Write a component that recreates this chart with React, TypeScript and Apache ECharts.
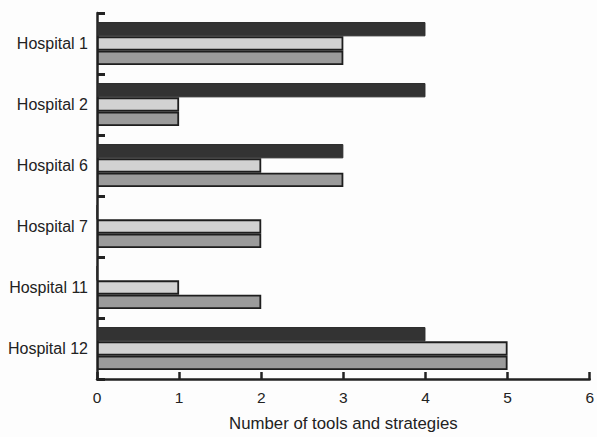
import React, { useEffect, useRef } from "react";
import * as echarts from "echarts";

const categories = ["Hospital 1", "Hospital 2", "Hospital 6", "Hospital 7", "Hospital 11", "Hospital 12"];
const darkValues = [4, 4, 3, 0, 0, 4];
const lightValues = [3, 1, 2, 2, 1, 5];
const mediumValues = [3, 1, 3, 2, 2, 5];
const xTicks = [0, 1, 2, 3, 4, 5, 6];

export default function App() {
  const ref = useRef<HTMLDivElement>(null);
  useEffect(() => {
    if (!ref.current) return;
    const chart = echarts.init(ref.current, null, { renderer: "svg" });
    const font = "'Liberation Sans', Arial, Helvetica, sans-serif";
    const barCommon = {
      type: "bar" as const,
      barWidth: 14.3,
      barGap: "0%",
    };
    chart.setOption({
      animation: false,
      backgroundColor: "#fdfdfd",
      grid: { left: 97, right: 2, top: 13, bottom: 55, containLabel: false },
      xAxis: {
        type: "value",
        min: xTicks[0],
        max: xTicks[xTicks.length - 1],
        interval: 1,
        name: "Number of tools and strategies",
        nameLocation: "middle",
        nameGap: 36,
        nameTextStyle: { color: "#222", fontSize: 16.8, fontFamily: font },
        axisLine: { show: true, lineStyle: { color: "#222", width: 2.5 } },
        axisTick: { show: true, inside: true, length: 7, lineStyle: { color: "#222", width: 2.5 } },
        axisLabel: { color: "#222", fontSize: 15.5, fontFamily: font, margin: 10 },
        splitLine: { show: false },
      },
      yAxis: {
        type: "category",
        data: categories,
        inverse: true,
        axisLine: { show: true, lineStyle: { color: "#222", width: 2.5 } },
        axisTick: { show: true, inside: true, length: 8, lineStyle: { color: "#222", width: 3 } },
        axisLabel: { color: "#222", fontSize: 16, fontFamily: font, margin: 9 },
        splitLine: { show: false },
      },
      series: [
        {
          ...barCommon,
          name: "dark",
          data: darkValues,
          itemStyle: { color: "#333333", borderColor: "#2a2a2a", borderWidth: 1 },
        },
        {
          ...barCommon,
          name: "light",
          data: lightValues,
          itemStyle: { color: "#d2d2d2", borderColor: "#1e1e1e", borderWidth: 1.8 },
        },
        {
          ...barCommon,
          name: "medium",
          data: mediumValues,
          itemStyle: { color: "#9b9b9b", borderColor: "#1e1e1e", borderWidth: 1.8 },
        },
      ],
    });
    return () => chart.dispose();
  }, []);
  return <div ref={ref} style={{ width: 597, height: 437, position: "absolute", left: 0, top: 0 }} />;
}
